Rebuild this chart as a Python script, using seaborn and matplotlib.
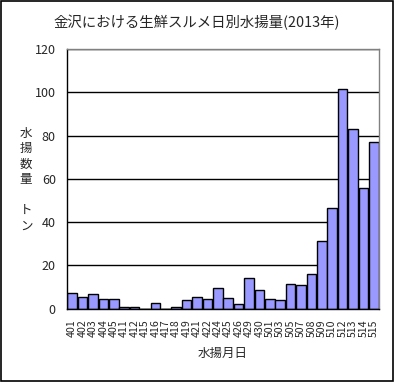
import pandas as pd
import numpy as np
import seaborn as sns
import matplotlib.pyplot as plt
from matplotlib.patches import Rectangle

# landing dates (month+day) and daily catch in tonnes
dates = ['401', '402', '403', '404', '405', '411', '412', '415', '416', '417',
         '418', '419', '421', '422', '424', '425', '426', '429', '430', '501',
         '503', '505', '507', '508', '509', '510', '512', '513', '514', '515']
catch = [7.0, 5.2, 6.6, 4.2, 4.2, 0.7, 0.6, 0.0, 2.4, 0.0,
         0.5, 3.8, 5.2, 4.2, 9.3, 4.7, 1.9, 14.0, 8.4, 4.2,
         3.8, 11.2, 10.7, 15.8, 31.1, 46.4, 101.5, 83.0, 55.6, 76.9]

df = pd.DataFrame({'date': dates, 'catch': catch})

sns.set_style('white')
plt.rcParams['font.family'] = ['Noto Sans CJK JP', 'DejaVu Sans']

fig = plt.figure(figsize=(3.94, 3.82), dpi=100)
ax = fig.add_axes([0.170, 0.1924, 0.792, 0.6793])

sns.barplot(data=df, x='date', y='catch', color='#9999FF', saturation=1,
            edgecolor='black', linewidth=1, width=0.92, ax=ax)

ax.set_ylim(0, 120)
ax.set_xlim(-0.5, len(dates) - 0.5)
ax.set_yticks(np.arange(0, 121, 20))
ax.yaxis.grid(True, color='black', linewidth=1)
ax.set_axisbelow(True)

# tick marks sit between the bars, pointing inward
ax.set_xticks(np.arange(len(dates)) + 0.5, minor=True)
ax.tick_params(axis='x', which='major', length=0, pad=8, labelsize=7.6, labelrotation=90)
ax.tick_params(axis='x', which='minor', direction='in', length=3, width=1, color='black')
ax.tick_params(axis='y', direction='in', length=3, width=1, color='black', pad=8, labelsize=9)

for s in ['left', 'bottom']:
    ax.spines[s].set_color('black')
    ax.spines[s].set_linewidth(1)
for s in ['top', 'right']:
    ax.spines[s].set_color('#808080')
    ax.spines[s].set_linewidth(1)

ax.set_xlabel('水揚月日', fontsize=9, labelpad=7)
ax.set_ylabel('')
fig.text(0.066, 0.53, '水\n揚\n数\n量\n\nト\nン', fontsize=9, ha='center', va='center',
         linespacing=1.25)

fig.text(0.5, 0.94, '金沢における生鮮スルメ日別水揚量(2013年)', fontsize=10.4,
         ha='center', va='center')

# outer frame
fig.patches.append(Rectangle((0.0015, 0.0015), 0.997, 0.997, transform=fig.transFigure,
                             fill=False, edgecolor='black', linewidth=1.2))

fig.savefig('out.png', dpi=100)
